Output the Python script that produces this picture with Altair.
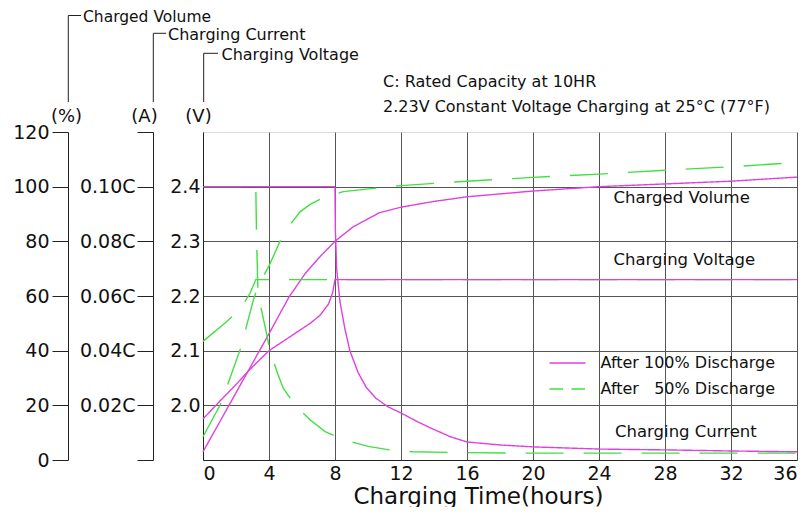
import altair as alt
import pandas as pd

MAG = "#E040E0"
GRN = "#40E040"
INK = "#111111"
GRID = "#555555"
FONT = "DejaVu Sans"

S100 = "After 100% Discharge"
S50 = "After\u00a0\u00a0 50% Discharge"

# ---- Charged volume (%) ----
vol100_h = [0, 2, 4, 5.2, 6.2, 7, 8, 9.1, 10.7, 12, 14, 16, 20, 24, 28, 32, 36]
vol100_v = [3, 24.6, 46.2, 59.5, 68.3, 73.8, 80, 85.3, 90.5, 92.5, 94.6, 96.3, 98.4, 100, 101, 102, 103.5]
vol50_h = [0, 1.03, 1.43, 2.24, 2.55, 3.05, 3.3, 3.6, 4.0, 4.67, 5.27, 5.88, 6.5, 7.2, 8.5, 10.7, 12, 16, 20, 24, 28, 32, 36]
vol50_v = [8.5, 20, 26.5, 40.2, 47, 58.5, 63, 66.5, 71, 80, 86, 90.8, 93.5, 95.7, 98.2, 99.6, 100.4, 102, 103.4, 104.6, 106, 107.3, 108.8]

# ---- Charging current (xC) ----
cur100_h = [0, 8, 8.02, 8.1, 8.3, 8.6, 8.9, 9.4, 9.9, 10.5, 11.2, 12, 13, 13.8, 15, 16, 18, 20, 24, 28, 32, 36]
cur100_v = [0.10, 0.10, 0.085, 0.07, 0.058, 0.048, 0.040, 0.032, 0.0265, 0.0225, 0.0195, 0.0172, 0.014, 0.0117,
            0.0085, 0.0066, 0.0055, 0.0048, 0.004, 0.0037, 0.0033, 0.003]
cur50_h = [0, 3.2, 3.25, 3.33, 3.45, 3.85, 4.05, 4.5, 4.87, 5.58, 6.5, 7.4, 8.6, 10, 11.3, 12.7, 15.6, 20, 36]
cur50_v = [0.10, 0.10, 0.08, 0.062, 0.0575, 0.0463, 0.0402, 0.032, 0.0262, 0.0201, 0.0146, 0.0104, 0.0073,
           0.005, 0.0037, 0.003, 0.0027, 0.0025, 0.0025]

# ---- Charging voltage (V) ----
volt100_h = [0, 1, 2, 2.85, 4, 5, 6.5, 7.1, 7.6, 7.85, 8, 36]
volt100_v = [1.975, 2.007, 2.038, 2.066, 2.10, 2.12, 2.15, 2.165, 2.185, 2.205, 2.23, 2.23]
volt50_h = [0, 1.43, 2.3, 2.85, 3.2, 36]
volt50_v = [2.117, 2.153, 2.178, 2.205, 2.23, 2.23]

x_ticks = [0, 4, 8, 12, 16, 20, 24, 28, 32, 36]
pct_ticks = [0, 20, 40, 60, 80, 100, 120]
cur_ticks = [0, 0.02, 0.04, 0.06, 0.08, 0.10, 0.12]
volt_ticks = [2.0, 2.1, 2.2, 2.3, 2.4]

series_names = [S100, S50]


def long_df(h50, v50, h100, v100):
    n50, n100 = len(h50), len(h100)
    return pd.DataFrame({
        "h": h50 + h100,
        "v": v50 + v100,
        "series": [S50] * n50 + [S100] * n100,
        "o": list(range(n50 + n100)),
    })


vol_df = long_df(vol50_h, vol50_v, vol100_h, vol100_v)
cur_df = long_df(cur50_h, cur50_v, cur100_h, cur100_v)
volt_df = long_df(volt50_h, volt50_v, volt100_h, volt100_v)
legend_df = pd.DataFrame({"lg": series_names})

X = alt.X(
    "h:Q",
    scale=alt.Scale(domain=[0, 36], nice=False, zero=False),
    axis=alt.Axis(
        values=x_ticks, grid=True, gridColor=GRID, gridWidth=1, tickSize=0,
        labelPadding=4, labelFontSize=19, labelFont=FONT, labelColor=INK,
        domainColor="#222222", title="Charging Time(hours)", titleFontSize=23,
        titleFont=FONT, titleFontWeight="normal", titleColor=INK,
        titleX=275, titleY=43, titleBaseline="alphabetic", titleAlign="center",
    ),
)

COLOR = alt.Color("series:N", scale=alt.Scale(domain=series_names, range=[MAG, GRN]), legend=None)
DASH = alt.StrokeDash("series:N", scale=alt.Scale(domain=series_names, range=[[1, 0], [38, 20]]), legend=None)


def yaxis(offset, values, tick, pad, title, tx, **kw):
    return alt.Axis(
        orient="left", offset=offset, values=values, tickSize=tick, labelPadding=pad,
        domainColor="#222222", tickColor="#222222", labelFontSize=19, labelFont=FONT,
        labelColor=INK, title=title, titleAngle=0, titleX=tx, titleY=-11,
        titleAlign="center", titleBaseline="alphabetic", titleFontSize=18,
        titleFont=FONT, titleFontWeight="normal", titleColor=INK, **kw,
    )


vol_layer = alt.Chart(vol_df).mark_line(strokeWidth=1.4).encode(
    x=X,
    y=alt.Y("v:Q", scale=alt.Scale(domain=[0, 120], nice=False, zero=False),
            axis=yaxis(135, pct_ticks, 16, 3, "(%)", -2, grid=False)),
    color=COLOR, strokeDash=DASH, order="o:Q",
)

cur_layer = alt.Chart(cur_df).mark_line(strokeWidth=1.4).encode(
    x=X,
    y=alt.Y("v:Q", scale=alt.Scale(domain=[0, 0.12], nice=False, zero=False),
            axis=yaxis(50, cur_ticks, 16, 2, "(A)", -9, grid=False,
                       labelExpr="datum.value < 0.01 || datum.value > 0.11 ? '' : format(datum.value, '.2f') + 'C'")),
    color=COLOR, strokeDash=DASH, order="o:Q",
)

volt_layer = alt.Chart(volt_df).mark_line(strokeWidth=1.4).encode(
    x=X,
    y=alt.Y("v:Q", scale=alt.Scale(domain=[1.9, 2.5], nice=False, zero=False),
            axis=yaxis(0, volt_ticks, 0, 3, "(V)", -5, grid=True, gridColor=GRID,
                       gridWidth=1, format=".1f")),
    color=COLOR, strokeDash=DASH, order="o:Q",
)

# legend: one-point (invisible) lines whose scales carry the legend
legend = alt.Legend(
    orient="none", legendX=354.5, legendY=221, title=None, padding=0,
    labelFontSize=16, labelFont=FONT, labelColor=INK, labelOffset=23, labelLimit=400,
    rowPadding=8, symbolType="M-2,0H2", symbolSize=324, symbolStrokeWidth=1.5,
)
legend_layer = alt.Chart(legend_df).mark_line(strokeWidth=1.5).encode(
    x=alt.value(0), y=alt.value(0),
    color=alt.Color("lg:N", scale=alt.Scale(domain=series_names, range=[MAG, GRN]), legend=legend),
    strokeDash=alt.StrokeDash("lg:N", scale=alt.Scale(domain=series_names, range=[[1, 0], [13.5, 8.5]]), legend=legend),
)

one = pd.DataFrame({"k": [0]})


def note(txt, x, y, size=16):
    return alt.Chart(one).mark_text(
        text=txt, align="left", baseline="alphabetic", fontSize=size, font=FONT, color=INK
    ).encode(x=alt.value(x), y=alt.value(y))


def vline(x, y1, y2):
    return alt.Chart(one).mark_rule(color="#222222", strokeWidth=1).encode(
        x=alt.value(x), y=alt.value(y1), y2=alt.value(y2))


def hline(x1, x2, y):
    return alt.Chart(one).mark_rule(color="#222222", strokeWidth=1).encode(
        x=alt.value(x1), x2=alt.value(x2), y=alt.value(y))


annotations = [
    vline(-134.7, -116.5, -30), hline(-134.7, -122, -116.5),
    note("Charged Volume", -120, -110, 15.5),
    vline(-49.7, -98.7, -30), hline(-49.7, -37, -98.7),
    note("Charging Current", -35, -92.5),
    vline(0.7, -78.7, -30), hline(0.7, 15, -78.7),
    note("Charging Voltage", 18.5, -72.5),
    note("C: Rated Capacity at 10HR", 180, -45),
    note("2.23V Constant Voltage Charging at 25\u00b0C (77\u00b0F)", 180, -20.5),
    note("Charged Volume", 410.5, 71, 16.5),
    note("Charging Voltage", 410.5, 133, 16.5),
    note("Charging Current", 412, 305, 16.5),
]

chart = alt.layer(vol_layer, cur_layer, volt_layer, legend_layer, *annotations).resolve_scale(
    y="independent", color="independent", strokeDash="independent"
).properties(
    width=594, height=328,
    autosize=alt.AutoSizeParams(type="none"),
    padding={"left": 195, "top": 124, "right": 4, "bottom": 47},
).configure_view(stroke="#777777", strokeWidth=1).configure(background="white")

chart.save("out.html", embed_options={"renderer": "svg", "actions": False})
